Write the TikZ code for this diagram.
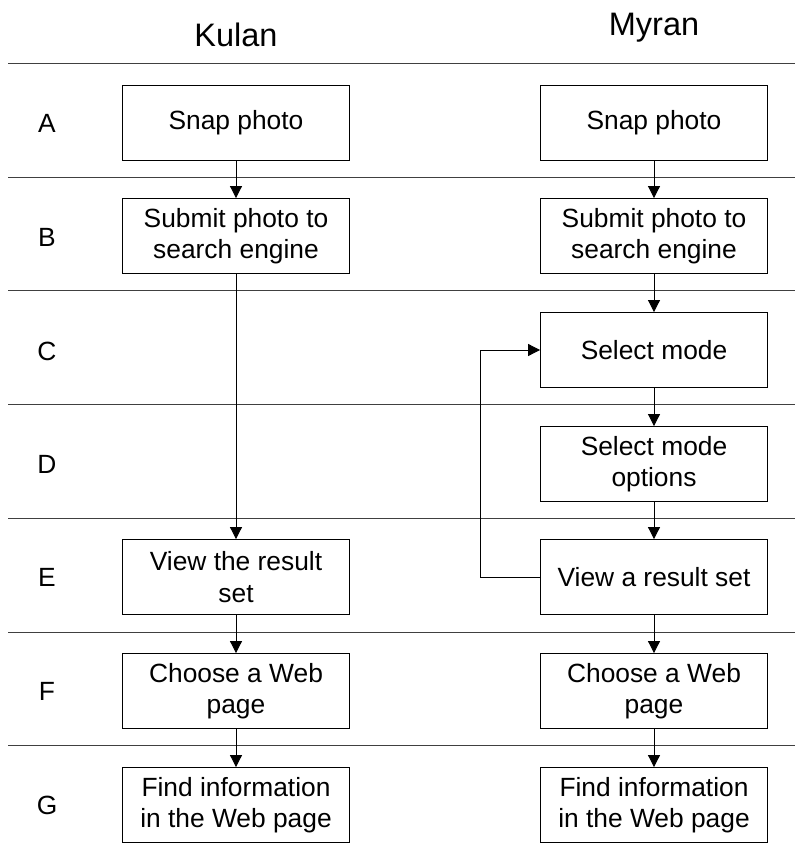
\documentclass[tikz,border=0pt]{standalone}
\usepackage{fontspec}
\setmainfont{Liberation Sans}
\usetikzlibrary{arrows.meta}

\begin{document}
\begin{tikzpicture}[x=0.02cm,y=-0.02cm,line width=0.5pt,
  stepbox/.style={draw,minimum width=4.54cm,minimum height=1.5cm,inner sep=0pt,
    align=center,font=\fontsize{15}{18}\selectfont},
  rowlabel/.style={font=\fontsize{15}{18}\selectfont},
  lanetitle/.style={font=\fontsize{18.5}{22}\selectfont},
  flow/.style={-{Triangle[length=0.24cm,width=0.24cm]}}]
  \useasboundingbox (0,0) rectangle (795,852);

  % lane titles
  \node[lanetitle] (kulan) at (236,35) {Kulan};
  \node[lanetitle] (myran) at (654,28) {Myran};

  % row separators and letters
  \foreach \y in {63,177,290,404,518,632,745}
    \draw[black!75] (8,\y) -- (795,\y);
  \foreach \l/\y in {A/123,B/237,C/351,D/464,E/577,F/691,G/805}
    \node[rowlabel] (row\l) at (47,\y) {\l};

  % Kulan
  \node[stepbox] (kA) at (236,123) {Snap photo};
  \node[stepbox] (kB) at (236,236) {Submit photo to\\search engine};
  \node[stepbox] (kE) at (236,577) {View the result\\set};
  \node[stepbox] (kF) at (236,691) {Choose a Web\\page};
  \node[stepbox] (kG) at (236,805) {Find information\\in the Web page};

  % Myran
  \node[stepbox] (mA) at (654,123) {Snap photo};
  \node[stepbox] (mB) at (654,236) {Submit photo to\\search engine};
  \node[stepbox] (mC) at (654,350) {Select mode};
  \node[stepbox] (mD) at (654,464) {Select mode\\options};
  \node[stepbox] (mE) at (654,577) {View a result set};
  \node[stepbox] (mF) at (654,691) {Choose a Web\\page};
  \node[stepbox] (mG) at (654,805) {Find information\\in the Web page};

  \draw[flow] (kA) -- (kB);
  \draw[flow] (kB) -- (kE);
  \draw[flow] (kE) -- (kF);
  \draw[flow] (kF) -- (kG);

  \draw[flow] (mA) -- (mB);
  \draw[flow] (mB) -- (mC);
  \draw[flow] (mC) -- (mD);
  \draw[flow] (mD) -- (mE);
  \draw[flow] (mE) -- (mF);
  \draw[flow] (mF) -- (mG);
  \draw[flow] (mE.west) -- ++(-60,0) |- (mC.west);

\end{tikzpicture}
\end{document}
